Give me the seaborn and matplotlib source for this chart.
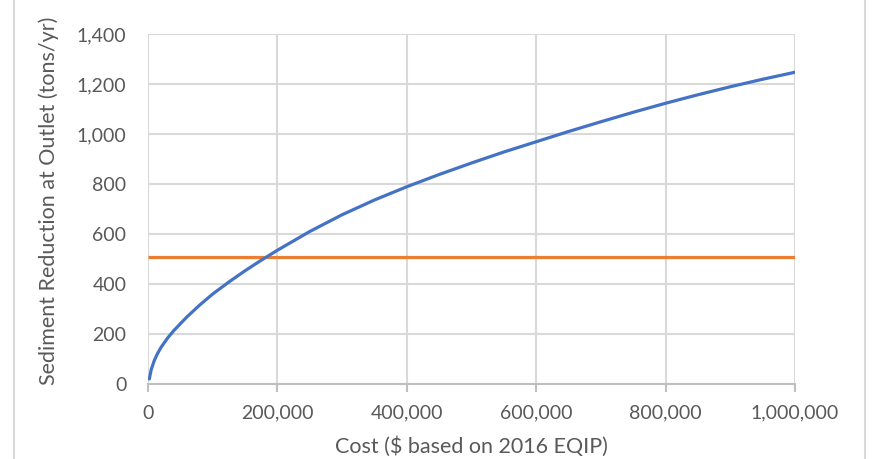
import matplotlib
matplotlib.use("Agg")
import matplotlib.pyplot as plt
from matplotlib.lines import Line2D
from matplotlib.ticker import FuncFormatter
import pandas as pd
import seaborn as sns

# Cost of practices ($, 2016 EQIP basis) and the resulting sediment reduction
cost = [2000, 5000, 10000, 15000, 20000, 30000, 40000, 60000, 80000,
        100000, 125000, 150000, 175000, 200000, 250000, 300000, 350000,
        400000, 450000, 500000, 550000, 600000, 650000, 700000, 750000,
        800000, 850000, 900000, 950000, 1000000]
sediment_reduction = [20, 58, 96, 123, 146, 183, 214, 268, 316,
                      360, 408, 453, 495, 535, 610, 677, 736,
                      789, 838, 884, 928, 969, 1010, 1049, 1087,
                      1123, 1157, 1189, 1219, 1247]

# Reduction target at the outlet
target_cost = [0, 1000000]
target_reduction = [508, 508]

x_ticks = [0, 200000, 400000, 600000, 800000, 1000000]
y_ticks = [0, 200, 400, 600, 800, 1000, 1200, 1400]

sns.set_theme(style="white")
plt.rcParams["font.family"] = ["Lato", "DejaVu Sans"]

curve = pd.DataFrame({"cost": cost, "reduction": sediment_reduction})
target = pd.DataFrame({"cost": target_cost, "reduction": target_reduction})

fig = plt.figure(figsize=(8.79, 4.59), dpi=100)
ax = fig.add_axes([148 / 879, 1 - 384 / 459, 647 / 879, 350 / 459])

grid_color = "#d9d9d9"
text_color = "#595959"

ax.set_xlim(0, 1000000)
ax.set_ylim(0, 1400)
ax.set_xticks(x_ticks)
ax.set_yticks(y_ticks)
ax.grid(True, color=grid_color, linewidth=1.5)
ax.set_axisbelow(True)

sns.lineplot(data=target, x="cost", y="reduction", ax=ax,
             color="#ED7D31", linewidth=2.3, solid_capstyle="butt")
sns.lineplot(data=curve, x="cost", y="reduction", ax=ax,
             color="#4472C4", linewidth=2.3, solid_capstyle="round",
             solid_joinstyle="round")

for side in ["top", "right", "left"]:
    ax.spines[side].set_visible(False)
ax.spines["bottom"].set_color("#bfbfbf")
ax.spines["bottom"].set_linewidth(1.5)
ax.spines["bottom"].set_zorder(1.5)

fmt = FuncFormatter(lambda v, p: f"{int(v):,}")
ax.xaxis.set_major_formatter(fmt)
ax.yaxis.set_major_formatter(fmt)

ax.tick_params(axis="x", which="major", bottom=True, length=6, width=1.5,
               color="#bfbfbf", direction="out", pad=9,
               labelsize=14, labelcolor=text_color)
ax.tick_params(axis="y", which="major", left=False, pad=9.5,
               labelsize=14, labelcolor=text_color)

ax.set_xlabel("Cost ($ based on 2016 EQIP)", fontsize=15.5, color=text_color)
ax.set_ylabel("Sediment Reduction at Outlet (tons/yr)", fontsize=15.5,
              color=text_color)
ax.xaxis.set_label_coords(0.5, -0.15)
ax.yaxis.set_label_coords(-0.137, 0.524)

# Outer chart frame edges
for fx in (14 / 879, 865 / 879):
    fig.add_artist(Line2D([fx, fx], [0, 1], transform=fig.transFigure,
                          color="#d9d9d9", linewidth=1.5))

fig.savefig("out.png", dpi=100)
